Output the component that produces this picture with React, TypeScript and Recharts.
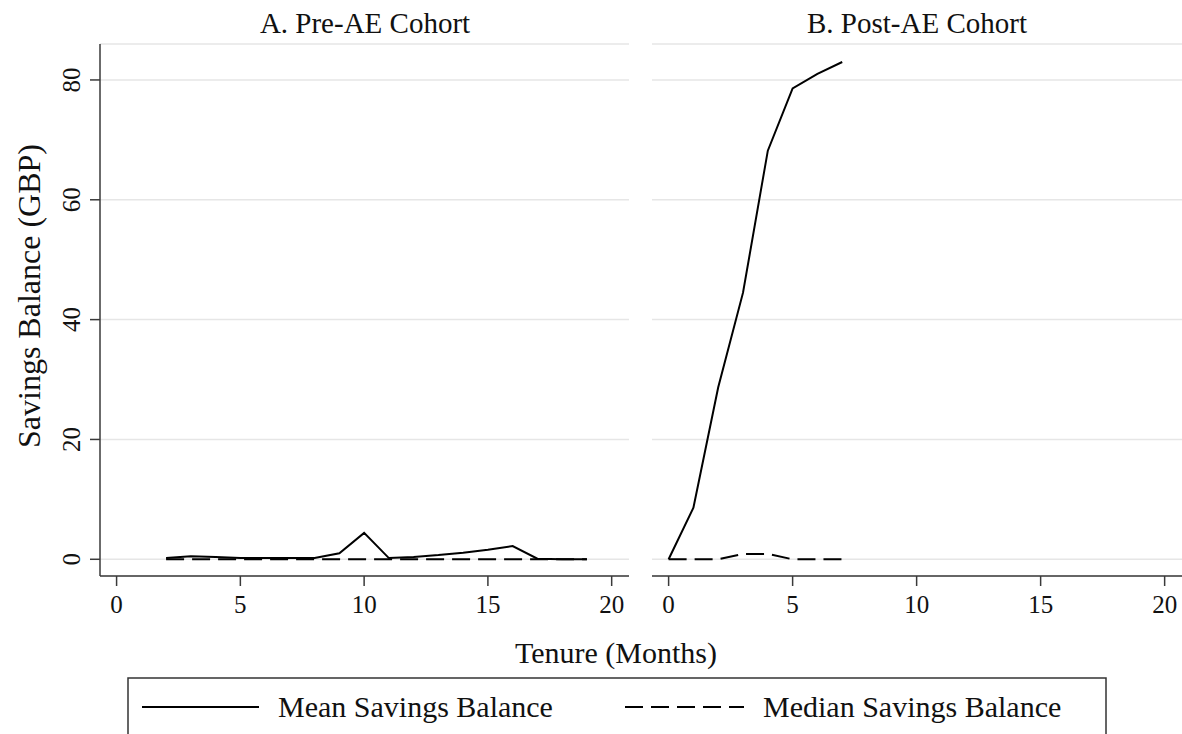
import { LineChart, Line, XAxis, YAxis, CartesianGrid } from 'recharts'

const FONT = '"Liberation Serif", "Times New Roman", Times, serif'

// Panel A: pre-AE cohort, months 2..19
const preMonths = [2, 3, 4, 5, 6, 7, 8, 9, 10, 11, 12, 13, 14, 15, 16, 17, 18, 19]
const preMean = [0.2, 0.5, 0.4, 0.2, 0.2, 0.2, 0.2, 1.0, 4.4, 0.2, 0.4, 0.7, 1.1, 1.6, 2.2, 0.1, 0.0, 0.0]
const preMedian = [0, 0, 0, 0, 0, 0, 0, 0, 0, 0, 0, 0, 0, 0, 0, 0, 0, 0]

// Panel B: post-AE cohort, months 0..7
const postMonths = [0, 1, 2, 3, 4, 5, 6, 7]
const postMean = [0, 8.6, 28.7, 44.5, 68.2, 78.6, 81.0, 83.0]
const postMedian = [0, 0, 0, 0.9, 0.9, 0, 0, 0]

const xTicks = [0, 5, 10, 15, 20]
const yTicks = [0, 20, 40, 60, 80]
const panelTitles = ['A. Pre-AE Cohort', 'B. Post-AE Cohort']
const legendLabels = ['Mean Savings Balance', 'Median Savings Balance']

const preData = preMonths.map((m, i) => ({ month: m, mean: preMean[i], median: preMedian[i] }))
const postData = postMonths.map((m, i) => ({ month: m, mean: postMean[i], median: postMedian[i] }))

const X_DOMAIN: [number, number] = [-0.67, 20.7]
const Y_DOMAIN: [number, number] = [-2.79, 86]
const AXIS = { stroke: '#3a3a3a', strokeWidth: 1.5 }
const DASH = '18 8'

const XTick = (props: any) => {
  const { x, y, payload } = props
  return (
    <text x={x} y={y + 25} textAnchor="middle" fontFamily={FONT} fontSize={25} fill="#111">
      {payload.value}
    </text>
  )
}

const YTick = (props: any) => {
  const { x, y, payload } = props
  const cx = x - 8
  return (
    <text x={cx} y={y} transform={`rotate(-90 ${cx} ${y})`} textAnchor="middle" fontFamily={FONT} fontSize={25} fill="#111">
      {payload.value}
    </text>
  )
}

function Panel({ data, showY }: { data: any[]; showY: boolean }) {
  return (
    <LineChart
      width={showY ? 640 : 530}
      height={620}
      data={data}
      margin={{ top: 44, right: showY ? 11 : 0, bottom: 0, left: 0 }}
    >
      <CartesianGrid vertical={false} stroke="#e6e6e6" strokeWidth={1.5} />
      <XAxis
        dataKey="month"
        type="number"
        domain={X_DOMAIN}
        ticks={xTicks}
        allowDataOverflow
        height={44}
        axisLine={AXIS}
        tickLine={AXIS}
        tickSize={10}
        tick={<XTick />}
        interval={0}
      />
      <YAxis
        type="number"
        domain={Y_DOMAIN}
        ticks={yTicks}
        allowDataOverflow
        hide={!showY}
        width={100}
        axisLine={AXIS}
        tickLine={AXIS}
        tickSize={10}
        tick={<YTick />}
        interval={0}
      />
      <Line type="linear" dataKey="median" stroke="#000" strokeWidth={2} strokeDasharray={DASH} dot={false} isAnimationActive={false} />
      <Line type="linear" dataKey="mean" stroke="#000" strokeWidth={2} dot={false} isAnimationActive={false} />
    </LineChart>
  )
}

export default function App() {
  return (
    <div style={{ position: 'absolute', left: 0, top: 0, width: 1182, height: 734, background: '#fff', overflow: 'hidden' }}>
      <div style={{ position: 'absolute', left: 0, top: 0 }}>
        <Panel data={preData} showY />
      </div>
      <div style={{ position: 'absolute', left: 652, top: 0 }}>
        <Panel data={postData} showY={false} />
      </div>

      {/* titles, axis titles and legend */}
      <svg style={{ position: 'absolute', left: 0, top: 0 }} width={1182} height={734}>
        <text x={365} y={33} textAnchor="middle" fontFamily={FONT} fontSize={29} fill="#111">{panelTitles[0]}</text>
        <text x={917} y={33} textAnchor="middle" fontFamily={FONT} fontSize={29} fill="#111">{panelTitles[1]}</text>
        <text x={40} y={296} transform="rotate(-90 40 296)" textAnchor="middle" fontFamily={FONT} fontSize={32} fill="#111">
          Savings Balance (GBP)
        </text>
        <text x={616} y={663} textAnchor="middle" fontFamily={FONT} fontSize={30} fill="#111">Tenure (Months)</text>

        <rect x={128} y={678} width={978} height={80} fill="none" stroke="#333" strokeWidth={1.5} />
        <line x1={142} x2={259} y1={707} y2={707} stroke="#000" strokeWidth={2} />
        <text x={278} y={717} fontFamily={FONT} fontSize={30} fill="#111">{legendLabels[0]}</text>
        <line x1={625} x2={744} y1={707} y2={707} stroke="#000" strokeWidth={2} strokeDasharray={DASH} />
        <text x={763} y={717} fontFamily={FONT} fontSize={30} fill="#111">{legendLabels[1]}</text>
      </svg>
    </div>
  )
}
